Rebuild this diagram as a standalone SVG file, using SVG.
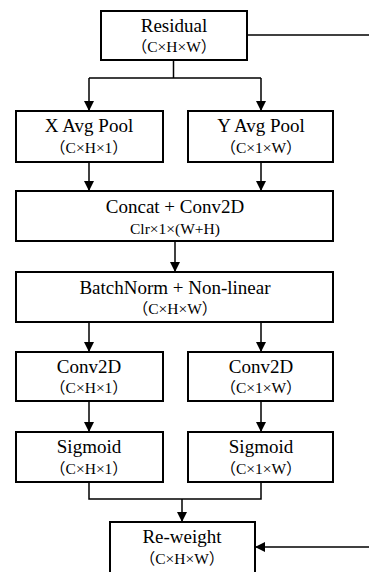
<svg xmlns="http://www.w3.org/2000/svg" width="369" height="572" viewBox="0 0 369 572">
<style>
.box{fill:#fff;stroke:#000;stroke-width:2}
.ln{fill:none;stroke:#000;stroke-width:1.5}
.t{font-family:'Liberation Serif','Noto Sans CJK SC',serif;font-size:19px;text-anchor:middle;fill:#000}
.s{font-family:'Liberation Serif','Noto Sans CJK SC',serif;font-size:15.5px;text-anchor:middle;fill:#000}
</style>
<defs>
<marker id="ah" markerWidth="10" markerHeight="10" refX="10" refY="5" orient="auto" markerUnits="userSpaceOnUse">
<path d="M0,0 L10,5 L0,10 Z" fill="#000"/>
</marker>
</defs>
<g id="connectors">
<path class="ln" d="M247,35 H369"/>
<path class="ln" d="M173.5,60 V78 M89,78 H261"/>
<path class="ln" d="M89,78 V111" marker-end="url(#ah)"/>
<path class="ln" d="M261,78 V111" marker-end="url(#ah)"/>
<path class="ln" d="M89,162 V191" marker-end="url(#ah)"/>
<path class="ln" d="M261,162 V191" marker-end="url(#ah)"/>
<path class="ln" d="M175,241 V272" marker-end="url(#ah)"/>
<path class="ln" d="M89,322 V352" marker-end="url(#ah)"/>
<path class="ln" d="M261,322 V352" marker-end="url(#ah)"/>
<path class="ln" d="M89,401 V432" marker-end="url(#ah)"/>
<path class="ln" d="M261,401 V432" marker-end="url(#ah)"/>
<path class="ln" d="M89,482 V499 H261 V482"/>
<path class="ln" d="M182,499 V522" marker-end="url(#ah)"/>
<path class="ln" d="M369,547 H255" marker-end="url(#ah)"/>
</g>
<g id="residual">
<rect class="box" x="101" y="11" width="146" height="49"/>
<text class="t" x="174" y="32">Residual</text>
<text class="s" x="174" y="52">（C×H×W）</text>
</g>
<g id="xpool">
<rect class="box" x="16" y="111" width="147" height="51"/>
<text class="t" x="89" y="132">X Avg Pool</text>
<text class="s" x="89" y="152.5">（C×H×1）</text>
</g>
<g id="ypool">
<rect class="box" x="188" y="111" width="145" height="51"/>
<text class="t" x="261" y="132">Y Avg Pool</text>
<text class="s" x="261" y="152.5">（C×1×W）</text>
</g>
<g id="concat">
<rect class="box" x="16" y="191" width="317" height="50"/>
<text class="t" x="175" y="213">Concat + Conv2D</text>
<text class="s" x="175" y="233.5">Clr×1×(W+H)</text>
</g>
<g id="batchnorm">
<rect class="box" x="16" y="272" width="317" height="50"/>
<text class="t" x="175" y="293.5">BatchNorm + Non-linear</text>
<text class="s" x="175" y="313.5">（C×H×W）</text>
</g>
<g id="conv-x">
<rect class="box" x="16" y="352" width="147" height="49"/>
<text class="t" x="89" y="373">Conv2D</text>
<text class="s" x="89" y="393">（C×H×1）</text>
</g>
<g id="conv-y">
<rect class="box" x="188" y="352" width="145" height="49"/>
<text class="t" x="261" y="373">Conv2D</text>
<text class="s" x="261" y="393">（C×1×W）</text>
</g>
<g id="sigmoid-x">
<rect class="box" x="16" y="432" width="147" height="50"/>
<text class="t" x="89" y="453">Sigmoid</text>
<text class="s" x="89" y="474">（C×H×1）</text>
</g>
<g id="sigmoid-y">
<rect class="box" x="188" y="432" width="145" height="50"/>
<text class="t" x="261" y="453">Sigmoid</text>
<text class="s" x="261" y="474">（C×1×W）</text>
</g>
<g id="reweight">
<rect class="box" x="110" y="522" width="145" height="60"/>
<text class="t" x="182" y="543">Re-weight</text>
<text class="s" x="182" y="564">（C×H×W）</text>
</g>
</svg>
